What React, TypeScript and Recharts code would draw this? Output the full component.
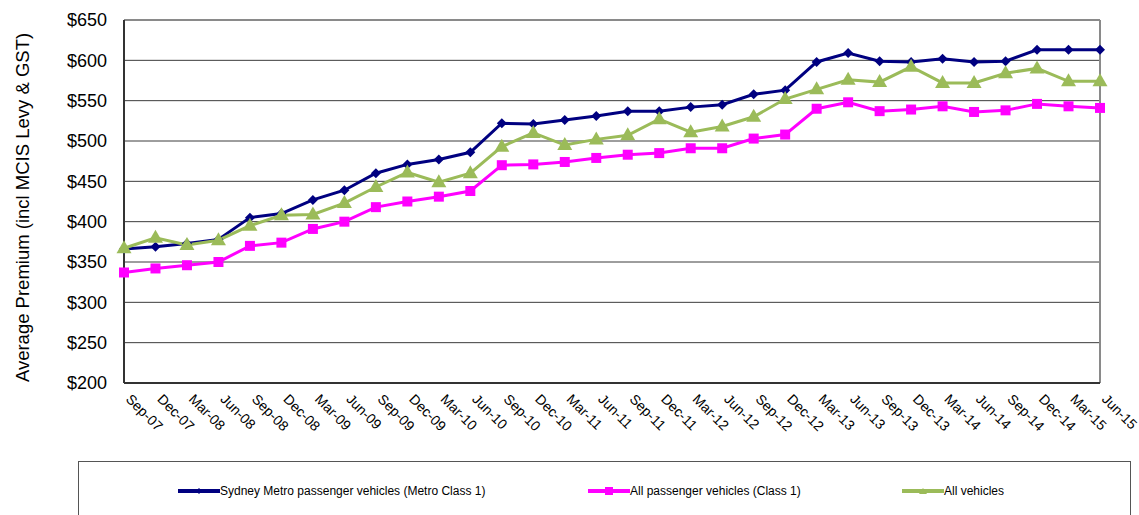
import React from 'react';
import { LineChart, Line, XAxis, YAxis, CartesianGrid, Legend, ReferenceLine } from 'recharts';

const categories = ['Sep-07','Dec-07','Mar-08','Jun-08','Sep-08','Dec-08','Mar-09','Jun-09','Sep-09','Dec-09','Mar-10','Jun-10','Sep-10','Dec-10','Mar-11','Jun-11','Sep-11','Dec-11','Mar-12','Jun-12','Sep-12','Dec-12','Mar-13','Jun-13','Sep-13','Dec-13','Mar-14','Jun-14','Sep-14','Dec-14','Mar-15','Jun-15'];

const sydneyMetro = [366,369,373,378,405,410,427,439,460,471,477,486,522,521,526,531,537,537,542,545,558,563,598,609,599,598,602,598,599,613,613,613];
const allPassenger = [337,342,346,350,370,374,391,400,418,425,431,438,470,471,474,479,483,485,491,491,503,508,540,548,537,539,543,536,538,546,543,541];
const allVehicles = [367,380,371,377,395,408,409,423,443,461,449,460,493,510,495,502,507,527,511,518,530,552,564,576,573,592,572,572,584,590,574,574];

const yTicks = [200,250,300,350,400,450,500,550,600,650];

const seriesNames = ['Sydney Metro passenger vehicles (Metro Class 1)', 'All passenger vehicles (Class 1)', 'All vehicles'];
const seriesColors = ['#000080', '#FF00FF', '#9BBB59'];

const data = categories.map((c, i) => ({
  cat: c,
  metro: sydneyMetro[i],
  passenger: allPassenger[i],
  vehicles: allVehicles[i],
}));

const FONT = '"Liberation Sans", Arial, sans-serif';

const Diamond = (props: any) => {
  const { cx, cy, index } = props;
  if (cx == null || cy == null) return <g key={`d${index}`} />;
  const r = 5;
  return <path key={`d${index}`} d={`M${cx},${cy - r}L${cx + r},${cy}L${cx},${cy + r}L${cx - r},${cy}Z`} fill={seriesColors[0]} />;
};
const Square = (props: any) => {
  const { cx, cy, index } = props;
  if (cx == null || cy == null) return <g key={`s${index}`} />;
  const r = 5;
  return <rect key={`s${index}`} x={cx - r} y={cy - r} width={2 * r} height={2 * r} fill={seriesColors[1]} />;
};
const Triangle = (props: any) => {
  const { cx, cy, index } = props;
  if (cx == null || cy == null) return <g key={`t${index}`} />;
  return <path key={`t${index}`} d={`M${cx},${cy - 8}L${cx + 7.5},${cy + 5}L${cx - 7.5},${cy + 5}Z`} fill={seriesColors[2]} />;
};

const XTick = (props: any) => {
  const { x, y, payload } = props;
  return (
    <g transform={`translate(${x + 1},${y + 17}) rotate(45)`}>
      <text x={0} y={0} textAnchor="start" fontSize={14} fontFamily={FONT} fill="#000">{payload.value}</text>
    </g>
  );
};

const YLabel = (props: any) => {
  const vb = props.viewBox || { x: 0, y: 0, width: 0, height: 0 };
  const cx = vb.x + 22;
  const cy = vb.y + vb.height / 2 + 6;
  return (
    <text x={cx} y={cy} transform={`rotate(-90, ${cx}, ${cy})`} textAnchor="middle" dominantBaseline="central" fontSize={18.5} fontFamily={FONT} fill="#000">
      Average Premium (incl MCIS Levy &amp; GST)
    </text>
  );
};

const legendX = [99, 509, 823];

const LegendContent = () => (
  <div style={{ position: 'relative', width: 1053, height: 60, border: '1px solid #555', boxSizing: 'border-box', background: '#fff', fontFamily: FONT }}>
    {seriesNames.map((name, i) => (
      <div key={name} style={{ position: 'absolute', left: legendX[i], top: 22, height: 14, display: 'flex', alignItems: 'center', whiteSpace: 'nowrap' }}>
        <svg width={42} height={10} style={{ display: 'block' }}>
          <line x1={0} y1={5} x2={42} y2={5} stroke={seriesColors[i]} strokeWidth={4} />
          {i === 0 && <path d="M21,2L24,5L21,8L18,5Z" fill={seriesColors[0]} />}
          {i === 1 && <rect x={17} y={1} width={8} height={8} fill={seriesColors[1]} />}
          {i === 2 && <path d="M21,2L25,8L17,8Z" fill={seriesColors[2]} />}
        </svg>
        <span style={{ fontSize: 12, color: '#000', marginLeft: 0 }}>{name}</span>
      </div>
    ))}
  </div>
);

export default function App() {
  return (
    <div style={{ position: 'absolute', left: 0, top: 0, width: 1139, height: 515, background: '#fff', overflow: 'hidden' }}>
      <LineChart width={1139} height={515} data={data} margin={{ top: 20, right: 39, bottom: 72, left: 0 }}>
        <CartesianGrid horizontal={true} vertical={false} stroke="#3c3c3c" strokeWidth={1} />
        <XAxis
          dataKey="cat"
          interval={0}
          height={60}
          tickLine={false}
          tickSize={0}
          tickMargin={0}
          axisLine={{ stroke: '#333', strokeWidth: 2 }}
          tick={<XTick />}
        />
        <YAxis
          domain={[200, 650]}
          ticks={yTicks}
          width={124}
          tickLine={false}
          tickSize={0}
          tickMargin={17}
          axisLine={{ stroke: '#333', strokeWidth: 2 }}
          tickFormatter={(v: number) => `$${v}`}
          tick={{ fontSize: 18, fontFamily: FONT, fill: '#000' }}
          label={<YLabel />}
          allowDataOverflow
        />
        <ReferenceLine y={650} stroke="#8a8a8a" strokeWidth={2} />
        <ReferenceLine x="Jun-15" stroke="#8a8a8a" strokeWidth={2} />
        <Legend
          layout="horizontal"
          verticalAlign="middle"
          align="center"
          wrapperStyle={{ position: 'absolute', left: 78, top: 461, width: 1053, height: 60 }}
          content={<LegendContent />}
        />
        <Line type="linear" dataKey="metro" name={seriesNames[0]} stroke={seriesColors[0]} strokeWidth={3} dot={<Diamond />} isAnimationActive={false} />
        <Line type="linear" dataKey="passenger" name={seriesNames[1]} stroke={seriesColors[1]} strokeWidth={3} dot={<Square />} isAnimationActive={false} />
        <Line type="linear" dataKey="vehicles" name={seriesNames[2]} stroke={seriesColors[2]} strokeWidth={3} dot={<Triangle />} isAnimationActive={false} />
      </LineChart>
    </div>
  );
}
